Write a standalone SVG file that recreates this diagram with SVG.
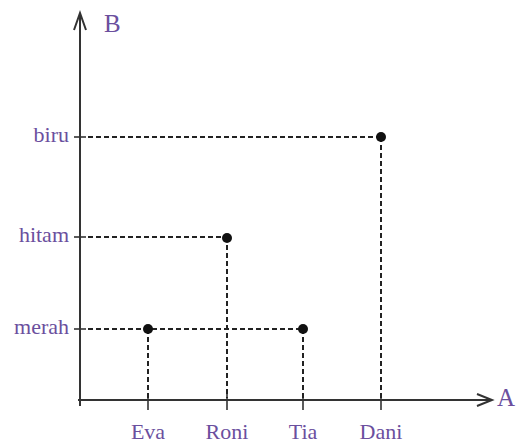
<svg xmlns="http://www.w3.org/2000/svg" width="517" height="444" viewBox="0 0 517 444">
<style>
.axis{stroke:#333;stroke-width:2;fill:none}
.tick{stroke:#333;stroke-width:1.6}
.dash{stroke:#222;stroke-width:2;stroke-dasharray:5 3;fill:none}
.lbl{font-family:"Liberation Serif",serif;font-size:22px;fill:#6b4f9e}
.big{font-family:"Liberation Serif",serif;font-size:25px;fill:#6b4f9e}
.pt{fill:#111}
</style>
<rect width="517" height="444" fill="#fff"/>
<g id="axes">
<line class="axis" x1="80" y1="13" x2="80" y2="406"/>
<polyline class="axis" points="74,30 80,13 86,30"/>
<line class="axis" x1="78" y1="400" x2="492" y2="400"/>
<polyline class="axis" points="477,394 492,400 477,406"/>
<text class="big" x="104" y="32">B</text>
<text class="big" x="497" y="406">A</text>
</g>
<g id="yticks">
<line class="tick" x1="74" y1="137" x2="86" y2="137"/>
<line class="tick" x1="74" y1="237" x2="86" y2="237"/>
<line class="tick" x1="74" y1="329" x2="86" y2="329"/>
<text class="lbl" x="69" y="142" text-anchor="end">biru</text>
<text class="lbl" x="69" y="242" text-anchor="end">hitam</text>
<text class="lbl" x="69" y="334" text-anchor="end">merah</text>
</g>
<g id="xticks">
<line class="tick" x1="148" y1="394" x2="148" y2="410"/>
<line class="tick" x1="227" y1="394" x2="227" y2="410"/>
<line class="tick" x1="303" y1="394" x2="303" y2="410"/>
<line class="tick" x1="381" y1="394" x2="381" y2="410"/>
<text class="lbl" x="148" y="439" text-anchor="middle">Eva</text>
<text class="lbl" x="227" y="439" text-anchor="middle">Roni</text>
<text class="lbl" x="303" y="439" text-anchor="middle">Tia</text>
<text class="lbl" x="381" y="439" text-anchor="middle">Dani</text>
</g>
<g id="connectors">
<line class="dash" x1="88" y1="137" x2="381" y2="137"/>
<line class="dash" x1="381" y1="137" x2="381" y2="398"/>
<line class="dash" x1="88" y1="237" x2="227" y2="237"/>
<line class="dash" x1="227" y1="237" x2="227" y2="398"/>
<line class="dash" x1="88" y1="329" x2="303" y2="329"/>
<line class="dash" x1="148" y1="329" x2="148" y2="398"/>
<line class="dash" x1="303" y1="329" x2="303" y2="398"/>
</g>
<g id="point-dani"><circle class="pt" cx="381" cy="137" r="5"/></g>
<g id="point-roni"><circle class="pt" cx="227" cy="238" r="5"/></g>
<g id="point-eva"><circle class="pt" cx="148" cy="329" r="5"/></g>
<g id="point-tia"><circle class="pt" cx="303" cy="329" r="5"/></g>
</svg>
